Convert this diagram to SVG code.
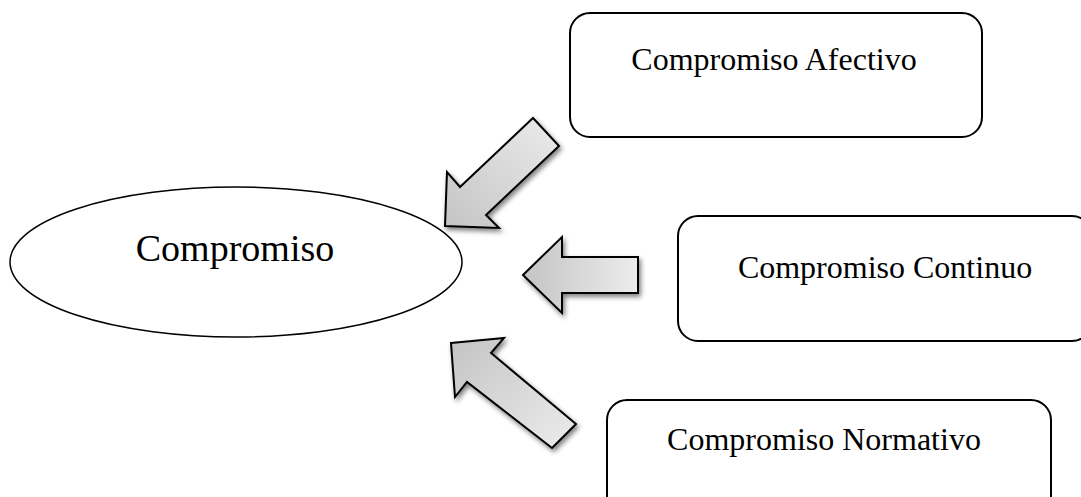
<svg xmlns="http://www.w3.org/2000/svg" width="1081" height="497" viewBox="0 0 1081 497">
<style>
.box{fill:#fff;stroke:#000;stroke-width:2}
.lbl{font-family:"Liberation Serif","Times New Roman",serif;font-size:32px;fill:#000;text-anchor:middle}
.arrow{stroke:#000;stroke-width:2;stroke-linejoin:miter;filter:url(#sh)}
</style>
<defs>
<filter id="sh" x="-30%" y="-30%" width="160%" height="160%">
<feGaussianBlur in="SourceAlpha" stdDeviation="2.5"/>
<feOffset dx="2" dy="3" result="b"/>
<feComponentTransfer><feFuncA type="linear" slope="0.5"/></feComponentTransfer>
<feMerge><feMergeNode/><feMergeNode in="SourceGraphic"/></feMerge>
</filter>
<linearGradient id="g1" x1="1" y1="0" x2="0" y2="1"><stop offset="0" stop-color="#ececec"/><stop offset="1" stop-color="#c4c4c4"/></linearGradient>
<linearGradient id="g2" x1="1" y1="0" x2="0" y2="0"><stop offset="0" stop-color="#ececec"/><stop offset="1" stop-color="#c4c4c4"/></linearGradient>
<linearGradient id="g3" x1="1" y1="1" x2="0" y2="0"><stop offset="0" stop-color="#ececec"/><stop offset="1" stop-color="#c4c4c4"/></linearGradient>
</defs>
<rect width="1081" height="497" fill="#fff"/>
<g id="compromiso">
<ellipse cx="236" cy="262" rx="226" ry="75" fill="#fff" stroke="#000" stroke-width="1.5"/>
<text class="lbl" x="235" y="261" style="font-size:38px">Compromiso</text>
</g>
<g id="afectivo">
<rect class="box" x="570" y="13" width="412" height="124" rx="20"/>
<text class="lbl" x="774" y="70">Compromiso Afectivo</text>
</g>
<g id="continuo">
<rect class="box" x="678" y="216" width="414" height="125" rx="20"/>
<text class="lbl" x="885" y="278">Compromiso Continuo</text>
</g>
<g id="normativo">
<rect class="box" x="607" y="400" width="444" height="125" rx="20"/>
<text class="lbl" x="824" y="450">Compromiso Normativo</text>
</g>
<g id="connectors">
<polygon class="arrow" fill="url(#g1)" points="533,118 559,146 486,215 499,228 445,226 447,172 460,187"/>
<polygon class="arrow" fill="url(#g2)" points="523,275 562,237 562,257 638,257 638,293 562,293 562,313"/>
<polygon class="arrow" fill="url(#g3)" points="451,343 504,338 491,353 576,424 552,448 467,382 455,397"/>
</g>
</svg>
